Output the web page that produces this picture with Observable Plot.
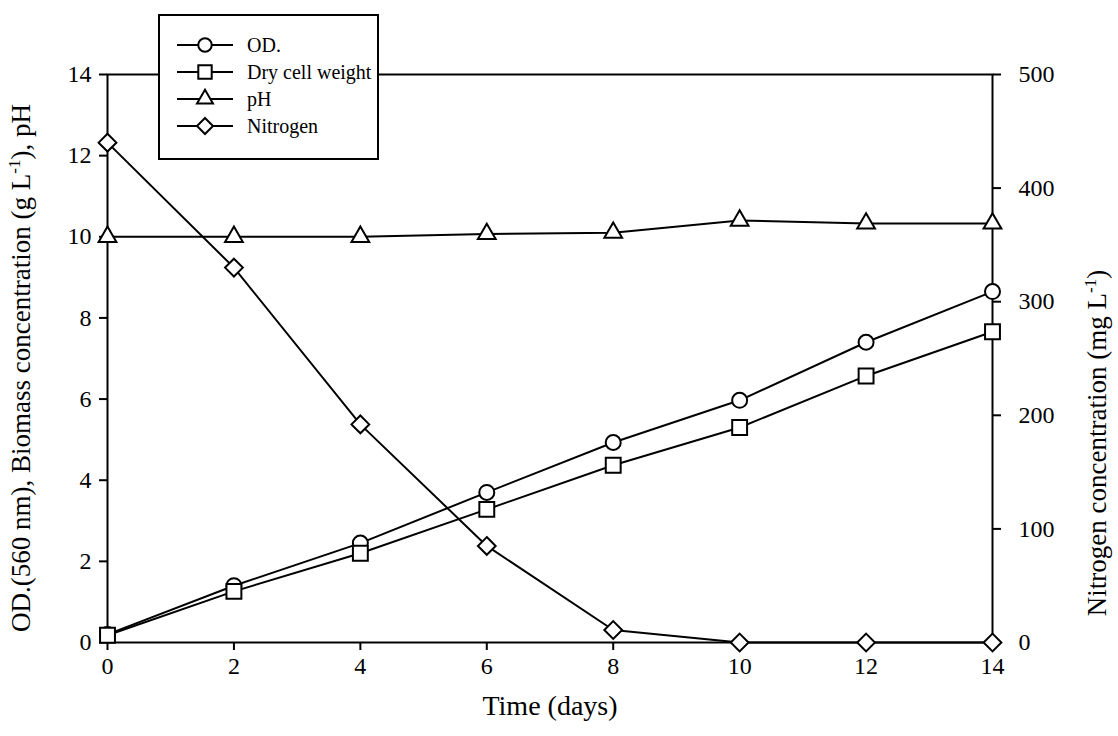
<!DOCTYPE html>
<html><head><meta charset="utf-8">
<script src="https://cdn.jsdelivr.net/npm/d3@7"></script>
<script src="https://cdn.jsdelivr.net/npm/@observablehq/plot@0.6"></script>
<style>
body{margin:0;background:#fff}
svg{font-family:"Liberation Serif","Times New Roman",serif}
</style>
</head><body><div id="chart"></div>
<script>
// Data
const days = [0, 2, 4, 6, 8, 10, 12, 14];
const od = [0.2, 1.4, 2.45, 3.7, 4.93, 5.97, 7.4, 8.65];
const dcw = [0.18, 1.26, 2.2, 3.28, 4.37, 5.3, 6.57, 7.66];
const ph = [10, 10, 10, 10.07, 10.1, 10.4, 10.33, 10.33];
const nitrogen = [440, 330, 192, 85, 11, 0, 0, 0];

const xTicks = [0, 2, 4, 6, 8, 10, 12, 14];
const leftTicks = [0, 2, 4, 6, 8, 10, 12, 14];
const rightTicks = [0, 100, 200, 300, 400, 500];
const leftMax = 14, rightMax = 500;
const toLeft = v => v * leftMax / rightMax;
const fromLeft = v => v * rightMax / leftMax;

const seriesNames = ["OD.", "Dry cell weight", "pH", "Nitrogen"];
const seriesSymbols = ["circle", "square", "triangle", "diamond2"];
const seriesR = [7.5, 8.4, 6.6, 8];

const seriesValues = [od, dcw, ph, nitrogen.map(toLeft)];
const table = [];
seriesValues.forEach((vals, i) => vals.forEach((v, j) => table.push({series: seriesNames[i], day: days[j], value: v, k: i})));

const tickFont = 24;
const marks = [
  Plot.frame({stroke: "black", strokeWidth: 2}),
  Plot.axisX({ticks: xTicks, tickSize: 8, tickPadding: 6, strokeWidth: 2, label: null, fontSize: tickFont}),
  Plot.axisY({ticks: leftTicks, tickSize: 8, tickPadding: 8, strokeWidth: 2, label: null, fontSize: tickFont}),
  Plot.axisY({anchor: "right", ticks: rightTicks.map(toLeft), tickFormat: d => Math.round(fromLeft(d)), tickSize: 8, tickPadding: 18, strokeWidth: 2, label: null, fontSize: tickFont})
];
seriesNames.forEach((name, i) => {
  const rows = table.filter(d => d.series === name);
  marks.push(Plot.line(rows, {x: "day", y: "value", stroke: "black", strokeWidth: 2}));
});
seriesNames.forEach((name, i) => {
  const rows = table.filter(d => d.series === name);
  marks.push(Plot.dot(rows, {x: "day", y: "value", symbol: () => seriesSymbols[i], r: seriesR[i], fill: "white", stroke: "black", strokeWidth: 2}));
});

const plot = Plot.plot({
  width: 1118, height: 736,
  marginLeft: 107, marginRight: 126, marginTop: 74, marginBottom: 94,
  style: {fontFamily: '"Liberation Serif","Times New Roman",serif', fontSize: tickFont + "px", color: "black", background: "white", overflow: "visible"},
  x: {domain: [0, 14]},
  y: {domain: [0, leftMax]},
  symbol: {domain: seriesSymbols, range: seriesSymbols},
  marks
});
document.getElementById("chart").append(plot);

const svg = d3.select(plot);
const font = '"Liberation Serif","Times New Roman",serif';

// axis titles
svg.append("text").attr("x", 550).attr("y", 715).attr("text-anchor", "middle")
  .style("font-family", font).style("font-size", "28px").attr("fill", "black").text("Time (days)");
const lt = svg.append("text").attr("transform", "translate(30,368) rotate(-90)").attr("text-anchor", "middle")
  .style("font-family", font).style("font-size", "27px").attr("fill", "black");
lt.append("tspan").text("OD.(560 nm), Biomass concentration (g L");
lt.append("tspan").attr("dy", -10).style("font-size", "17px").text("-1");
lt.append("tspan").attr("dy", 10).text("), pH");
const rt = svg.append("text").attr("transform", "translate(1106,443) rotate(-90)").attr("text-anchor", "middle")
  .style("font-family", font).style("font-size", "27px").attr("fill", "black");
rt.append("tspan").text("Nitrogen concentration (mg L");
rt.append("tspan").attr("dy", -10).style("font-size", "17px").text("-1");
rt.append("tspan").attr("dy", 10).text(")");

// legend
const lg = svg.append("g");
lg.append("rect").attr("x", 159).attr("y", 15).attr("width", 219).attr("height", 144)
  .attr("fill", "white").attr("stroke", "black").attr("stroke-width", 2);
const d3Sym = {circle: d3.symbolCircle, square: d3.symbolSquare, triangle: d3.symbolTriangle, diamond2: d3.symbolDiamond2};
seriesNames.forEach((name, i) => {
  const y = 45 + i * 27;
  lg.append("line").attr("x1", 177).attr("x2", 233).attr("y1", y).attr("y2", y).attr("stroke", "black").attr("stroke-width", 2);
  const r = seriesR[i] * 0.9;
  lg.append("path").attr("transform", `translate(205,${y})`)
    .attr("d", d3.symbol(d3Sym[seriesSymbols[i]], Math.PI * r * r)())
    .attr("fill", "white").attr("stroke", "black").attr("stroke-width", 2);
  lg.append("text").attr("x", 247).attr("y", y + 7).attr("text-anchor", "start")
    .style("font-family", font).style("font-size", "20px").attr("fill", "black").text(name);
});
</script>
</body></html>
